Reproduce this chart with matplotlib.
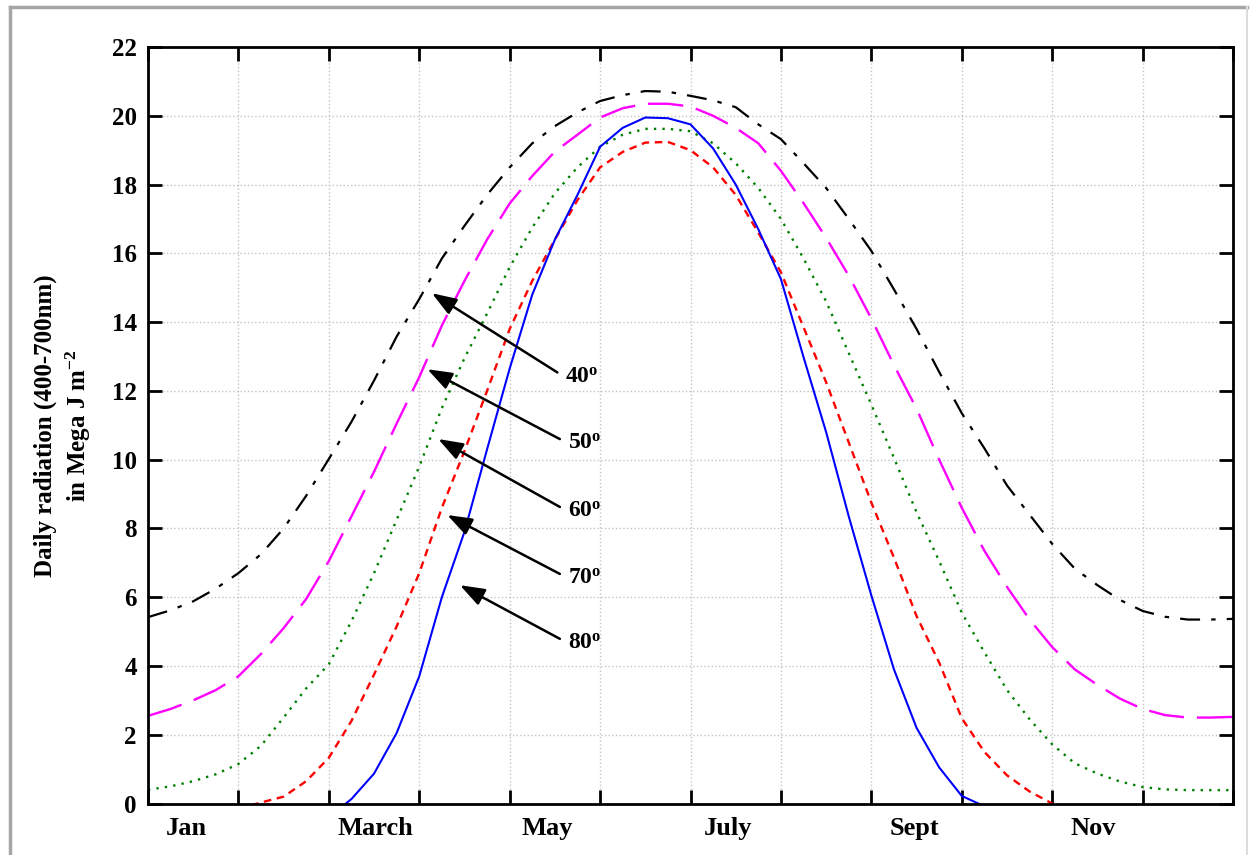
import numpy as np
import matplotlib
matplotlib.use("Agg")
import matplotlib.pyplot as plt
from matplotlib.lines import Line2D

# fonts: bold serif everywhere, incl. the superscripts
plt.rcParams['font.family'] = ['Liberation Serif', 'DejaVu Serif']
plt.rcParams['font.weight'] = 'bold'
plt.rcParams['mathtext.fontset'] = 'custom'
plt.rcParams['mathtext.rm'] = 'Liberation Serif:bold'
plt.rcParams['mathtext.bf'] = 'Liberation Serif:bold'
plt.rcParams['mathtext.it'] = 'Liberation Serif:italic:bold'

nan = np.nan

# x position in months (0 = start of Jan, 12 = end of Dec), quarter-month samples
months = [0, 0.25, 0.5, 0.75, 1, 1.25, 1.5, 1.75, 2, 2.25, 2.5, 2.75,
          3, 3.25, 3.5, 3.75, 4, 4.25, 4.5, 4.75, 5, 5.25, 5.5, 5.75,
          6, 6.25, 6.5, 6.75, 7, 7.25, 7.5, 7.75, 8, 8.25, 8.5, 8.75,
          9, 9.25, 9.5, 9.75, 10, 10.25, 10.5, 10.75, 11, 11.25, 11.5, 11.75, 12]

# daily radiation (400-700nm), Mega J m-2
rad_40 = [5.42, 5.62, 5.88, 6.25, 6.7, 7.25, 8.0, 8.95, 10.02, 11.1, 12.3, 13.58,
          14.67, 15.85, 16.8, 17.7, 18.5, 19.2, 19.7, 20.1, 20.43, 20.6, 20.72, 20.7,
          20.58, 20.45, 20.25, 19.75, 19.32, 18.62, 17.9, 17.0, 16.07, 14.95, 13.8, 12.55,
          11.35, 10.33, 9.25, 8.4, 7.55, 6.83, 6.35, 5.92, 5.6, 5.43, 5.35, 5.35, 5.37]
rad_50 = [2.55, 2.75, 3.0, 3.3, 3.7, 4.35, 5.1, 5.95, 7.05, 8.35, 9.65, 11.05,
          12.4, 13.9, 15.2, 16.4, 17.45, 18.25, 18.96, 19.45, 19.95, 20.22, 20.35, 20.35,
          20.27, 20.0, 19.65, 19.2, 18.4, 17.46, 16.45, 15.35, 14.1, 12.75, 11.48, 10.0,
          8.6, 7.35, 6.3, 5.35, 4.55, 3.9, 3.45, 3.05, 2.75, 2.57, 2.5, 2.5, 2.52]
rad_60 = [0.4, 0.5, 0.65, 0.85, 1.15, 1.68, 2.5, 3.35, 4.05, 5.3, 6.7, 8.25,
          9.8, 11.5, 12.95, 14.25, 15.6, 16.75, 17.75, 18.5, 19.1, 19.45, 19.62, 19.62,
          19.55, 19.2, 18.62, 17.9, 17.0, 15.85, 14.6, 13.1, 11.6, 10.05, 8.47, 7.05,
          5.55, 4.4, 3.3, 2.45, 1.72, 1.17, 0.87, 0.64, 0.48, 0.41, 0.39, 0.39, 0.39]
rad_70 = [nan, nan, nan, nan, -0.15, 0.03, 0.2, 0.65, 1.33, 2.4, 3.75, 5.15,
          6.7, 8.6, 10.25, 12.0, 13.8, 15.2, 16.4, 17.55, 18.5, 18.95, 19.22, 19.24,
          19.0, 18.5, 17.7, 16.6, 15.45, 13.85, 12.25, 10.5, 8.75, 7.15, 5.45, 4.1,
          2.48, 1.5, 0.82, 0.35, 0.0, nan, nan, nan, nan, nan, nan, nan, nan]
rad_80 = [nan, nan, nan, nan, nan, nan, nan, nan, -0.4, 0.13, 0.87, 2.05,
          3.7, 6.0, 7.9, 10.3, 12.65, 14.8, 16.4, 17.7, 19.1, 19.65, 19.95, 19.93,
          19.75, 19.05, 18.0, 16.7, 15.25, 12.98, 10.8, 8.35, 6.05, 3.9, 2.2, 1.05,
          0.22, -0.08, nan, nan, nan, nan, nan, nan, nan, nan, nan, nan, nan]

month_names = ["Jan", "March", "May", "July", "Sept", "Nov"]
month_label_pos = [0.43, 2.52, 4.42, 6.42, 8.48, 10.45]
yticks = [0, 2, 4, 6, 8, 10, 12, 14, 16, 18, 20, 22]

fig = plt.figure(figsize=(12.54, 8.55), dpi=100)
ax = fig.add_axes([0.118, 0.0602, 0.8653, 0.8848])

# the five latitude curves
ax.plot(months, rad_40, color='black', lw=1.6, dashes=(9, 5, 2, 5))
ax.plot(months, rad_50, color='#ff00ff', lw=1.7, dashes=(15, 5.5))
ax.plot(months, rad_60, color='#008000', lw=1.7, dashes=(1, 2.6))
ax.plot(months, rad_70, color='#ff0000', lw=1.7, dashes=(3.2, 2.4))
ax.plot(months, rad_80, color='#0000ff', lw=1.5)

ax.set_xlim(0, 12)
ax.set_ylim(0, 22)

# month boundaries get the ticks + grid, labels sit mid-month
ax.set_xticks(range(13))
ax.set_xticklabels([])
ax.set_xticks(month_label_pos, minor=True)
ax.set_xticklabels(month_names, minor=True, fontsize=19, fontweight='bold')
ax.set_yticks(yticks)
ax.set_yticklabels([str(v) for v in yticks], fontsize=18, fontweight='bold')

ax.tick_params(which='major', direction='in', length=10, width=2,
               top=True, right=True, pad=8)
ax.tick_params(axis='x', which='minor', length=0, pad=10)
ax.grid(True, which='major', linestyle=':', color='#c4c4c4', lw=1)
for sp in ax.spines.values():
    sp.set_linewidth(2)

ax.set_ylabel("Daily radiation (400-700nm)\nin Mega J m$^{-2}$",
              fontsize=18, fontweight='bold', linespacing=1.3)
ax.yaxis.set_label_coords(-0.051, 0.5)

# arrows pointing at each curve
labels = ["40$^{\\mathbf{o}}$", "50$^{\\mathbf{o}}$", "60$^{\\mathbf{o}}$",
          "70$^{\\mathbf{o}}$", "80$^{\\mathbf{o}}$"]
heads = [(3.14, 14.84), (3.09, 12.63), (3.21, 10.6), (3.31, 8.39), (3.45, 6.35)]
texts = [(4.61, 12.4), (4.64, 10.48), (4.64, 8.5), (4.64, 6.56), (4.64, 4.67)]
for lab, hd, tx in zip(labels, heads, texts):
    ax.annotate(lab, xy=hd, xytext=tx, ha='left', va='center',
                fontsize=17, fontweight='bold',
                arrowprops=dict(arrowstyle='-|>,head_length=0.75,head_width=0.27',
                                color='black', lw=1.8, mutation_scale=20,
                                relpos=(0, 0.5), shrinkA=4, shrinkB=0))

# grey frame around the figure like in the screenshot
fig.add_artist(Line2D([10 / 1254, 10 / 1254], [0, 1 - 7 / 855],
                      transform=fig.transFigure, color='#a6a6a6', lw=2.5))
fig.add_artist(Line2D([10 / 1254, 1247 / 1254], [1 - 7 / 855, 1 - 7 / 855],
                      transform=fig.transFigure, color='#a6a6a6', lw=2.5))
fig.add_artist(Line2D([1247 / 1254, 1247 / 1254], [0, 1 - 7 / 855],
                      transform=fig.transFigure, color='#dcdcdc', lw=1.5))

fig.savefig("out.png", dpi=100)
